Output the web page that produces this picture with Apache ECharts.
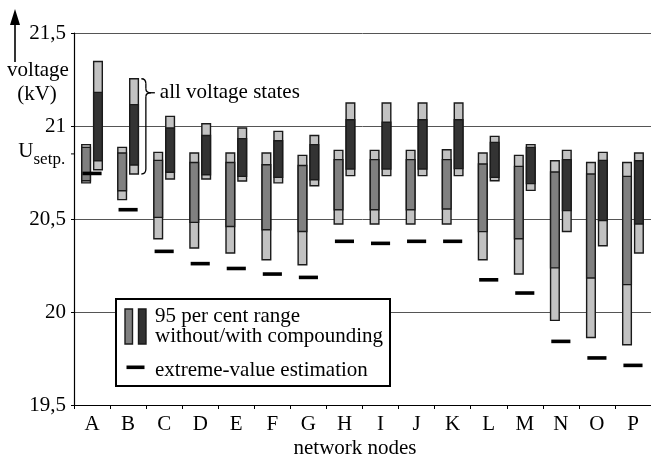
<!DOCTYPE html>
<html>
<head>
<meta charset="utf-8">
<script src="https://cdn.jsdelivr.net/npm/echarts@6/dist/echarts.min.js"></script>
<style>
  html, body { margin: 0; padding: 0; background: #fff; }
  #chart { width: 651px; height: 461px; }
</style>
</head>
<body>
<div id="chart"></div>
<script>
// Network nodes along the feeder
const nodes = ['A','B','C','D','E','F','G','H','I','J','K','L','M','N','O','P'];

// Without compounding: all states max, 95 % upper, 95 % lower, all states min (kV)
const noCompMax = [20.900,20.885,20.858,20.855,20.855,20.855,20.842,20.869,20.869,20.869,20.872,20.855,20.842,20.813,20.804,20.804];
const noCompHi  = [20.885,20.855,20.815,20.804,20.804,20.792,20.788,20.819,20.819,20.819,20.819,20.796,20.783,20.753,20.742,20.729];
const noCompLo  = [20.706,20.652,20.509,20.482,20.460,20.442,20.433,20.550,20.550,20.550,20.554,20.432,20.394,20.237,20.183,20.147];
const noCompMin = [20.694,20.604,20.394,20.344,20.317,20.281,20.254,20.473,20.473,20.473,20.473,20.281,20.204,19.955,19.863,19.824];

// With compounding
const compMax = [21.347,21.254,21.052,21.012,20.989,20.971,20.949,21.124,21.124,21.124,21.124,20.944,20.900,20.869,20.858,20.855];
const compHi  = [21.181,21.115,20.989,20.949,20.932,20.921,20.900,21.034,21.020,21.034,21.034,20.912,20.885,20.819,20.815,20.813];
const compLo  = [20.813,20.790,20.751,20.738,20.729,20.724,20.711,20.769,20.769,20.769,20.771,20.724,20.690,20.545,20.492,20.473];
const compMin = [20.765,20.742,20.715,20.715,20.704,20.694,20.679,20.733,20.733,20.733,20.733,20.706,20.654,20.433,20.356,20.317];

// Extreme-value estimation of the lowest voltage
const extremeEst = [20.745,20.550,20.326,20.260,20.234,20.204,20.186,20.380,20.369,20.380,20.380,20.173,20.102,19.842,19.753,19.713];

// Voltage set point
const uSetpoint = 20.85;

// Y axis ticks
const yTicks = [19.5, 20, 20.5, 21, 21.5];

const FONT = 'Liberation Serif';
const LIGHT = '#c2c2c2';
const MID = '#808080';
const DARK = '#333333';
const EDGE = '#1a1a1a';

function rows(mx, hi, lo, mn) {
  return nodes.map((_, i) => [i, mx[i], hi[i], lo[i], mn[i]]);
}

function rangeRenderer(offsetFrac, innerFill) {
  return function (params, api) {
    const i = api.value(0);
    const pTop = api.coord([i, api.value(1)]);
    const pHi = api.coord([i, api.value(2)]);
    const pLo = api.coord([i, api.value(3)]);
    const pBot = api.coord([i, api.value(4)]);
    const band = api.size([1, 0])[0];
    const w = band * 0.24;
    const cx = pTop[0] + band * offsetFrac;
    return {
      type: 'group',
      children: [
        { type: 'rect', shape: { x: cx - w / 2, y: pTop[1], width: w, height: pBot[1] - pTop[1] },
          style: { fill: LIGHT, stroke: EDGE, lineWidth: 1.4 } },
        { type: 'rect', shape: { x: cx - w / 2, y: pHi[1], width: w, height: pLo[1] - pHi[1] },
          style: { fill: innerFill, stroke: EDGE, lineWidth: 1.4 } }
      ]
    };
  };
}

function dashRenderer(params, api) {
  const i = api.value(0);
  const p = api.coord([i, api.value(1)]);
  const band = api.size([1, 0])[0];
  const w = band * 0.53;
  return {
    type: 'rect',
    shape: { x: p[0] - w / 2, y: p[1] - 1.8, width: w, height: 3.6 },
    style: { fill: '#000' }
  };
}

const chart = echarts.init(document.getElementById('chart'), null, { renderer: 'canvas' });

chart.setOption({
  animation: false,
  backgroundColor: '#fff',
  textStyle: { fontFamily: FONT },
  grid: { left: 74, top: 33, width: 580.6, height: 372, containLabel: false },
  xAxis: {
    type: 'category',
    data: nodes,
    boundaryGap: true,
    axisLine: { lineStyle: { color: '#000', width: 1.2 } },
    axisTick: { show: true, length: 4, lineStyle: { color: '#000' } },
    axisLabel: { color: '#000', fontSize: 21, fontFamily: FONT, margin: 9 },
    splitLine: { show: false }
  },
  yAxis: {
    type: 'value',
    min: yTicks[0],
    max: yTicks[yTicks.length - 1],
    interval: 0.5,
    axisLine: { show: true, lineStyle: { color: '#000', width: 1.2 } },
    axisTick: { show: true, length: 3, lineStyle: { color: '#000' } },
    axisLabel: {
      color: '#000', fontSize: 21, fontFamily: FONT, margin: 8,
      formatter: v => String(v).replace('.', ',')
    },
    splitLine: { show: true, lineStyle: { color: '#555', width: 1 } }
  },
  series: [
    {
      name: 'without compounding',
      type: 'custom',
      renderItem: rangeRenderer(-0.165, MID),
      encode: { x: 0, y: [1, 2, 3, 4] },
      data: rows(noCompMax, noCompHi, noCompLo, noCompMin),
      z: 3
    },
    {
      name: 'with compounding',
      type: 'custom',
      renderItem: rangeRenderer(0.165, DARK),
      encode: { x: 0, y: [1, 2, 3, 4] },
      data: rows(compMax, compHi, compLo, compMin),
      z: 3
    },
    {
      name: 'extreme-value estimation',
      type: 'custom',
      renderItem: dashRenderer,
      encode: { x: 0, y: 1 },
      data: nodes.map((_, i) => [i, extremeEst[i]]),
      z: 4
    }
  ]
});

// Annotations placed through the axis scales
const toPx = (x, y) => chart.convertToPixel({ gridIndex: 0 }, [x, y]);
const band = chart.getModel().getComponent('xAxis').axis.getBandWidth();
const axisX = toPx(0, yTicks[0])[0] - band / 2;

const ySet = toPx(0, uSetpoint)[1];
const bTop = toPx(1, compMax[1]);
const bBot = toPx(1, compMin[1]);
const bx = bTop[0] + band * 0.165 + band * 0.12 + 7.5;   // spine of the brace
const tipY = bTop[1] + 14;
const y20 = toPx(0, 20)[1];

const ink = { stroke: '#000', lineWidth: 1.3, fill: null };

chart.setOption({
  graphic: [
    // vertical arrow and axis title
    { type: 'line', shape: { x1: 15, y1: 62, x2: 15, y2: 22 }, style: { stroke: '#000', lineWidth: 1.6 } },
    { type: 'polygon', shape: { points: [[15, 9], [10, 25], [20, 25]] }, style: { fill: '#000' } },
    { type: 'text', style: { text: 'voltage', x: 38, y: 70, fontSize: 21, fontFamily: FONT, fill: '#000', textAlign: 'center', textVerticalAlign: 'middle' } },
    { type: 'text', style: { text: '(kV)', x: 37, y: 94, fontSize: 21, fontFamily: FONT, fill: '#000', textAlign: 'center', textVerticalAlign: 'middle' } },
    // set point marker on the y axis
    { type: 'line', shape: { x1: axisX - 3, y1: ySet, x2: axisX, y2: ySet }, style: { stroke: '#000', lineWidth: 1 } },
    { type: 'text', style: { text: 'U', x: 33.5, y: ySet - 2, fontSize: 21, fontFamily: FONT, fill: '#000', textAlign: 'right', textVerticalAlign: 'middle' } },
    { type: 'text', style: { text: 'setp.', x: 33.5, y: ySet + 6, fontSize: 17, fontFamily: FONT, fill: '#000', textAlign: 'left', textVerticalAlign: 'middle' } },
    // brace marking the full range of all voltage states
    { type: 'bezierCurve', shape: { x1: bx - 4.5, y1: bTop[1], cpx1: bx, cpy1: bTop[1], x2: bx, y2: bTop[1] + 5 }, style: ink },
    { type: 'line', shape: { x1: bx, y1: bTop[1] + 5, x2: bx, y2: tipY - 4 }, style: ink },
    { type: 'bezierCurve', shape: { x1: bx, y1: tipY - 4, cpx1: bx, cpy1: tipY, x2: bx + 5, y2: tipY }, style: ink },
    { type: 'bezierCurve', shape: { x1: bx + 5, y1: tipY, cpx1: bx, cpy1: tipY, x2: bx, y2: tipY + 4 }, style: ink },
    { type: 'line', shape: { x1: bx, y1: tipY + 4, x2: bx, y2: bBot[1] - 5 }, style: ink },
    { type: 'bezierCurve', shape: { x1: bx, y1: bBot[1] - 5, cpx1: bx, cpy1: bBot[1], x2: bx - 4.5, y2: bBot[1] }, style: ink },
    { type: 'line', shape: { x1: bx + 5, y1: tipY, x2: bx + 9, y2: tipY }, style: ink },
    { type: 'text', style: { text: 'all voltage states', x: bx + 14, y: tipY, fontSize: 21, fontFamily: FONT, fill: '#000', textAlign: 'left', textVerticalAlign: 'middle' } },
    // x axis title
    { type: 'text', style: { text: 'network nodes', x: 355, y: 448, fontSize: 21, fontFamily: FONT, fill: '#000', textAlign: 'center', textVerticalAlign: 'middle' } },
    // legend box
    { type: 'rect', z: 100, shape: { x: 116, y: y20 - 13, width: 274, height: 87 }, style: { fill: '#fff', stroke: '#000', lineWidth: 2 } },
    { type: 'rect', z: 101, shape: { x: 125, y: y20 - 3, width: 7.5, height: 35 }, style: { fill: MID, stroke: EDGE, lineWidth: 1.4 } },
    { type: 'rect', z: 101, shape: { x: 138.5, y: y20 - 3, width: 7.5, height: 35 }, style: { fill: DARK, stroke: EDGE, lineWidth: 1.4 } },
    { type: 'rect', z: 101, shape: { x: 126.5, y: y20 + 53.5, width: 18, height: 3.6 }, style: { fill: '#000' } },
    { type: 'text', z: 101, style: { text: '95 per cent range', x: 155, y: y20 + 4, fontSize: 21, fontFamily: FONT, fill: '#000', textVerticalAlign: 'middle' } },
    { type: 'text', z: 101, style: { text: 'without/with compounding', x: 155, y: y20 + 24, fontSize: 21, fontFamily: FONT, fill: '#000', textVerticalAlign: 'middle' } },
    { type: 'text', z: 101, style: { text: 'extreme-value estimation', x: 155, y: y20 + 58, fontSize: 21, fontFamily: FONT, fill: '#000', textVerticalAlign: 'middle' } }
  ]
});
</script>
</body>
</html>
